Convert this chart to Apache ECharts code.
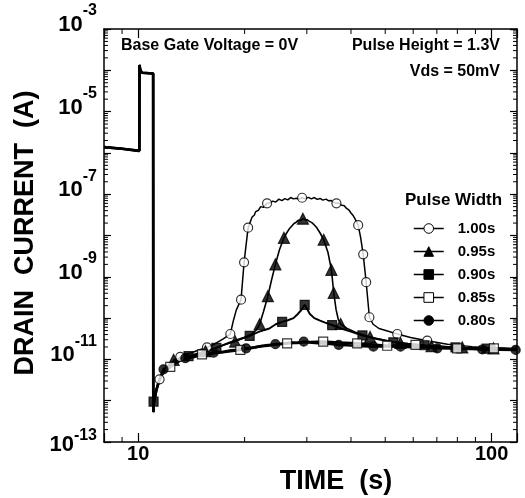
<!DOCTYPE html>
<html><head><meta charset="utf-8">
<script src="https://cdn.jsdelivr.net/npm/echarts@6/dist/echarts.min.js"></script>
<style>html,body{margin:0;padding:0;background:#fff}#c{width:525px;height:498px}</style>
</head><body><div id="c"></div>
<script>
const FONT = '"Liberation Sans", Arial, Helvetica, sans-serif';
const seriesNames = ['1.00s', '0.95s', '0.90s', '0.85s', '0.80s'];
const xTickLabels = [10, 100];
const yTickLabelExps = [-3, -5, -7, -9, -11, -13];
const xMinorTicks = [9, 20, 30, 40, 50, 60, 70, 80, 90];
const yMinorMantissas = [2, 3, 4, 5, 6, 7, 8, 9];

// shared: gate pulse and the first recovery (t in s, I in A)
const commonTrace = [[8.0,1.38e-6],[9.0,1.26e-6],[10.07,1.12e-6],[10.08,1.35e-4],[10.14,1.0e-4],[10.25,8.7e-5],[11.02,8.4e-5],[11.03,5.3e-13],[11.06,8.5e-13],[11.25,1.8e-12],[11.49,3.3e-12]];

const trace100 = [[11.8,5.1e-12],[12.3,7.1e-12],[13.15,1.15e-11],[14.0,1.41e-11],[15.0,1.74e-11],[15.65,1.95e-11],[16.5,2.4e-11],[17.4,3.16e-11],[18.22,4.12e-11],[18.6,8.9e-11],[18.95,1.58e-10],[19.54,2.8e-10],[19.93,2.24e-9],[20.46,1.55e-8],[21.0,2.8e-8],[21.3,3.1e-8],[21.5,3.8e-8],[21.9,4.1e-8],[22.2,5.0e-8],[22.6,4.8e-8],[23.15,6.0e-8],[23.6,6.2e-8],[24.0,6.8e-8],[24.5,6.5e-8],[25.0,7.6e-8],[25.5,7.0e-8],[26.0,7.8e-8],[26.5,7.3e-8],[27.0,8.3e-8],[27.5,7.7e-8],[28.0,8.0e-8],[28.5,7.6e-8],[29.09,8.2e-8],[29.7,7.8e-8],[30.3,8.4e-8],[30.9,7.7e-8],[31.5,8.3e-8],[32.1,7.5e-8],[32.7,7.9e-8],[33.3,7.2e-8],[34.0,7.6e-8],[34.6,6.9e-8],[35.2,7.0e-8],[35.8,6.3e-8],[36.38,6.0e-8],[37.0,6.1e-8],[37.6,5.4e-8],[38.2,5.3e-8],[38.8,4.6e-8],[39.4,4.2e-8],[40.0,3.5e-8],[40.5,3.1e-8],[41.0,2.6e-8],[41.92,1.78e-8],[42.6,8.9e-9],[43.31,3.5e-9],[44.16,7.4e-10],[45.1,1.05e-10],[46.2,7.1e-11],[48.0,5.6e-11],[51.0,4.8e-11],[54.07,4.12e-11],[59.0,3.4e-11],[65.74,2.84e-11],[75,2.34e-11],[88,2.04e-11],[100,1.9e-11],[118,1.78e-11]];
const marks100 = [[11.49,3.3e-12],[13.15,1.15e-11],[15.65,1.95e-11],[18.22,4.12e-11],[19.54,2.8e-10],[19.93,2.24e-9],[20.46,1.55e-8],[23.15,6.0e-8],[29.09,8.2e-8],[36.38,6.0e-8],[41.92,1.78e-8],[43.31,3.5e-9],[44.16,7.4e-10],[45.1,1.05e-10],[54.07,4.12e-11],[65.74,2.84e-11]];

const trace95 = [[11.8,5.0e-12],[12.3,6.8e-12],[12.59,9.8e-12],[13.5,1.12e-11],[14.5,1.32e-11],[15.5,1.58e-11],[16.5,1.9e-11],[17.6,2.3e-11],[18.8,2.7e-11],[20.0,3.4e-11],[21.0,4.2e-11],[21.6,5.2e-11],[22.06,7.1e-11],[22.6,1.41e-10],[23.27,3.4e-10],[23.8,7.9e-10],[24.44,2.0e-9],[25.1,4.5e-9],[25.84,8.8e-9],[26.3,1.15e-8],[26.7,1.41e-8],[27.2,1.7e-8],[27.6,1.95e-8],[28.0,2.1e-8],[28.4,2.35e-8],[28.8,2.3e-8],[29.24,2.55e-8],[29.7,2.4e-8],[30.1,2.4e-8],[30.5,2.2e-8],[31.0,2.05e-8],[31.5,1.8e-8],[32.0,1.55e-8],[32.7,1.15e-8],[33.48,7.9e-9],[34.4,4.0e-9],[35.21,1.48e-9],[35.75,4.1e-10],[36.3,1.6e-10],[36.8,9.5e-11],[37.4,7.2e-11],[39,5.6e-11],[41,4.6e-11],[45.3,3.5e-11],[50,2.9e-11],[55.2,2.5e-11],[67.6,2.1e-11],[82.6,1.95e-11],[101.2,1.86e-11],[118,1.78e-11]];
const marks95 = [[12.59,9.8e-12],[15.5,1.58e-11],[18.8,2.7e-11],[22.06,7.1e-11],[23.27,3.4e-10],[24.44,2.0e-9],[25.84,8.8e-9],[29.24,2.55e-8],[33.48,7.9e-9],[35.21,1.48e-9],[35.75,4.1e-10],[37.4,7.2e-11],[45.3,3.5e-11],[55.2,2.5e-11],[67.6,2.1e-11],[82.6,1.95e-11],[101.2,1.86e-11]];

const trace90 = [[11.8,5.2e-12],[12.3,6.5e-12],[13.0,1.0e-11],[13.88,1.2e-11],[15.0,1.45e-11],[16.64,1.9e-11],[18.0,2.5e-11],[19.5,3.16e-11],[20.67,3.7e-11],[22.0,4.7e-11],[23.5,5.6e-11],[24.5,7.1e-11],[25.54,8.1e-11],[26.5,8.9e-11],[27.5,1.0e-10],[28.3,1.26e-10],[28.9,1.55e-10],[29.58,2.1e-10],[30.0,1.7e-10],[30.6,1.26e-10],[31.5,1.0e-10],[32.7,8.7e-11],[33.8,7.8e-11],[35.38,6.8e-11],[37.5,5.6e-11],[40.0,4.7e-11],[43.1,3.8e-11],[47,3.16e-11],[52.7,2.6e-11],[58,2.4e-11],[64.6,2.2e-11],[79,1.95e-11],[96.8,1.82e-11],[118,1.74e-11]];
const marks90 = [[11.05,9.5e-13],[13.88,1.2e-11],[16.64,1.9e-11],[20.67,3.7e-11],[25.54,8.1e-11],[29.58,2.1e-10],[35.38,6.8e-11],[43.1,3.8e-11],[52.7,2.6e-11],[64.6,2.2e-11],[79,1.95e-11],[96.8,1.82e-11]];

const trace85 = [[11.8,5.0e-12],[12.32,6.6e-12],[13.3,1.0e-11],[14.2,1.17e-11],[15.15,1.32e-11],[16.5,1.41e-11],[18.0,1.55e-11],[19.45,1.7e-11],[21.0,1.9e-11],[23.0,2.2e-11],[26.38,2.45e-11],[29.5,2.6e-11],[33.37,2.7e-11],[37.0,2.57e-11],[41.65,2.45e-11],[46,2.3e-11],[50.65,2.14e-11],[55,2.2e-11],[60.9,2.24e-11],[70,2.0e-11],[79.9,1.86e-11],[90,1.86e-11],[101.5,1.86e-11],[118,1.78e-11]];
const marks85 = [[12.32,6.6e-12],[15.15,1.32e-11],[19.45,1.7e-11],[26.38,2.45e-11],[33.37,2.7e-11],[41.65,2.45e-11],[50.65,2.14e-11],[60.9,2.24e-11],[79.9,1.86e-11],[101.5,1.86e-11]];

const trace80 = [[11.79,5.75e-12],[12.5,8.3e-12],[13.0,9.4e-12],[13.59,1.07e-11],[14.3,1.13e-11],[15.0,1.26e-11],[15.6,1.3e-11],[16.34,1.45e-11],[17.3,1.52e-11],[18.3,1.66e-11],[19.2,1.72e-11],[20.2,1.86e-11],[21.2,1.95e-11],[22.3,2.1e-11],[23.3,2.15e-11],[24.44,2.34e-11],[25.6,2.4e-11],[27,2.57e-11],[28.2,2.5e-11],[29.39,2.69e-11],[31,2.55e-11],[33,2.45e-11],[35,2.38e-11],[36.93,2.24e-11],[39,2.2e-11],[41,2.14e-11],[43.5,2.1e-11],[46.3,2.04e-11],[50,2.1e-11],[55.24,2.04e-11],[62,1.95e-11],[66,1.98e-11],[70.2,1.86e-11],[76,1.84e-11],[82,1.78e-11],[88,1.8e-11],[94.1,1.74e-11],[105,1.72e-11],[118,1.7e-11]];
const marks80 = [[11.79,5.75e-12],[13.59,1.07e-11],[16.34,1.45e-11],[20.2,1.86e-11],[24.44,2.34e-11],[29.39,2.69e-11],[36.93,2.24e-11],[46.3,2.04e-11],[55.24,2.04e-11],[70.2,1.86e-11],[94.1,1.74e-11],[117,1.7e-11]];

const traces = [trace100, trace95, trace90, trace85, trace80];
const marks = [marks100, marks95, marks90, marks85, marks80];
const markerStyles = [
  {symbol: 'circle', size: 9, fill: '#fff', lw: 1.5},
  {symbol: 'triangle', size: 11, fill: '#000', lw: 1.6},
  {symbol: 'rect', size: 9, fill: '#000', lw: 2},
  {symbol: 'rect', size: 9, fill: '#fff', lw: 2.6},
  {symbol: 'circle', size: 9, fill: '#000', lw: 2.6}
];

const X_MIN = 8, X_MAX = 118, Y_MIN = 1.001e-13, Y_MAX = 1e-3;

const minorData = [];
xMinorTicks.forEach(v => minorData.push([v, 1e-12, 0]));
for (let e = -13; e < -3; e++) {
  yMinorMantissas.forEach(m => minorData.push([10, m * Math.pow(10, e), 1]));
}

const chart = echarts.init(document.getElementById('c'), null, {renderer: 'canvas'});
const lineStyleAxis = {color: '#000', width: 1.5};
function xAxisDef(pos, showLabel) {
  return {
    type: 'log', min: X_MIN, max: X_MAX, position: pos,
    axisLine: {show: true, onZero: false, lineStyle: lineStyleAxis},
    axisTick: {show: true, inside: true, length: 9, lineStyle: {color: '#000', width: 1.2}},
    splitLine: {show: false}, minorTick: {show: false},
    axisLabel: {
      show: showLabel, margin: 2, color: '#000', fontFamily: FONT, fontWeight: 'bold', fontSize: 20,
      formatter: v => xTickLabels.some(t => Math.abs(t - v) / t < 1e-6) ? String(Math.round(v)) : ''
    }
  };
}
const richBase = {fontFamily: FONT, fontWeight: 'bold', color: '#000'};
function yAxisDef(pos, showLabel) {
  return {
    type: 'log', min: Y_MIN, max: Y_MAX, splitNumber: 10, position: pos,
    axisLine: {show: true, onZero: false, lineStyle: lineStyleAxis},
    axisTick: {show: true, inside: true, length: 7, lineStyle: {color: '#000', width: 1.2}},
    splitLine: {show: false}, minorTick: {show: false},
    axisLabel: {
      show: showLabel, margin: 7, color: '#000', padding: [0, 0, 19, 0],
      formatter: v => {
        const e = Math.round(Math.log10(v));
        if (!yTickLabelExps.includes(e)) return '';
        return e === -13 ? '{b|10}{s2|' + e + '}' : '{b|10}{s|' + e + '}';
      },
      rich: {
        b: Object.assign({fontSize: 22, lineHeight: 22, verticalAlign: 'bottom'}, richBase),
        s: Object.assign({fontSize: 16, lineHeight: 33, padding: [0, 0, 17, 0], verticalAlign: 'top'}, richBase),
        s2: Object.assign({fontSize: 16, lineHeight: 47, padding: [19, 0, 0, 0], verticalAlign: 'top'}, richBase)
      }
    }
  };
}

const series = [];
seriesNames.forEach((name, i) => {
  const ms = markerStyles[i];
  series.push({
    name: name, type: 'line', xAxisIndex: 0, yAxisIndex: 0,
    data: commonTrace.concat(traces[i]),
    symbol: ms.symbol, symbolSize: ms.size, showSymbol: false,
    lineStyle: {color: '#000', width: ms.lw},
    itemStyle: {color: ms.fill, borderColor: '#000', borderWidth: 1},
    z: 2
  });
});
seriesNames.forEach((name, i) => {
  const ms = markerStyles[i];
  series.push({
    name: name + ' markers', type: 'scatter', xAxisIndex: 0, yAxisIndex: 0,
    data: marks[i], symbol: ms.symbol, symbolSize: ms.size,
    itemStyle: {color: ms.fill, borderColor: '#000', borderWidth: 1.2},
    z: 3
  });
});
series.push({
  type: 'custom', name: 'minorTicks', xAxisIndex: 0, yAxisIndex: 0, silent: true, z: 4,
  data: minorData,
  renderItem: (params, api) => {
    const cs = params.coordSys;
    const kind = api.value(2);
    const st = {stroke: '#000', lineWidth: 1};
    if (kind === 0) {
      const p = api.coord([api.value(0), 1e-12]);
      const b = cs.y + cs.height, t = cs.y;
      return {type: 'group', children: [
        {type: 'line', shape: {x1: p[0], y1: b, x2: p[0], y2: b - 5}, style: st},
        {type: 'line', shape: {x1: p[0], y1: t, x2: p[0], y2: t + 5}, style: st}
      ]};
    }
    const p = api.coord([10, api.value(1)]);
    const l = cs.x, r = cs.x + cs.width;
    return {type: 'group', children: [
      {type: 'line', shape: {x1: l, y1: p[1], x2: l + 4, y2: p[1]}, style: st},
      {type: 'line', shape: {x1: r, y1: p[1], x2: r - 4, y2: p[1]}, style: st}
    ]};
  }
});

const txt = (x, y, text, size, align, extra) => Object.assign({
  type: 'text', x: x, y: y, silent: true,
  style: {text: text, font: 'bold ' + size + 'px ' + FONT, fill: '#000', align: align, verticalAlign: 'middle'}
}, extra || {});

chart.setOption({
  animation: false,
  backgroundColor: '#fff',
  grid: {left: 104, right: 8, top: 29, bottom: 56, containLabel: false},
  xAxis: [xAxisDef('bottom', true), xAxisDef('top', false)],
  yAxis: [yAxisDef('left', true), yAxisDef('right', false)],
  legend: {
    data: seriesNames, orient: 'vertical', left: 413, top: 221, padding: 0,
    itemWidth: 30, itemHeight: 12, itemGap: 8,
    textStyle: {fontFamily: FONT, fontWeight: 'bold', fontSize: 15, color: '#000', padding: [0, 0, 0, 9]},
    itemStyle: {borderWidth: 1}, lineStyle: {width: 1.5}
  },
  graphic: [
    txt(121, 46, 'Base Gate Voltage = 0V', 16, 'left'),
    txt(500, 46, 'Pulse Height = 1.3V', 16, 'right'),
    txt(500, 72, 'Vds = 50mV', 16, 'right'),
    txt(405, 200, 'Pulse Width', 17, 'left'),
    txt(336, 482, 'TIME  (s)', 27, 'center'),
    txt(26, 233, 'DRAIN  CURRENT  (A)', 27, 'center', {rotation: Math.PI / 2})
  ],
  series: series
});
</script></body></html>
